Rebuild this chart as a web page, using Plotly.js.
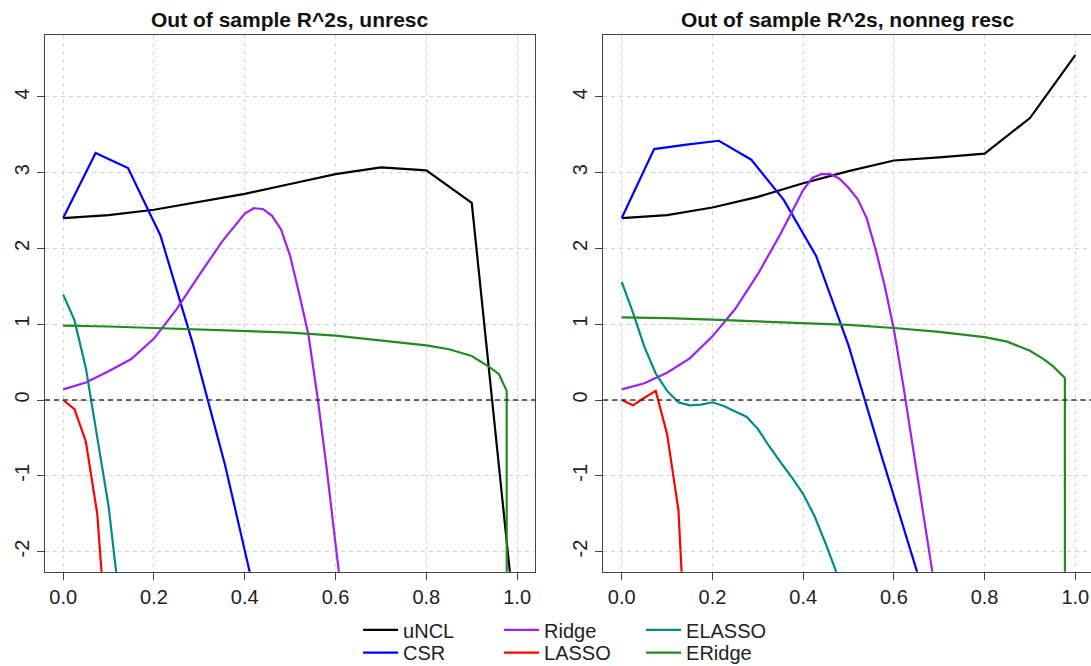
<!DOCTYPE html>
<html><head><meta charset="utf-8">
<script src="https://cdn.plot.ly/plotly-3.0.1.min.js"></script>
<style>html,body{margin:0;padding:0;background:#fff}</style>
</head><body><div id="chart" style="width:1091px;height:666px"></div>
<script>
// ---- series metadata ----
const seriesNames  = ['uNCL','CSR','Ridge','LASSO','ELASSO','ERidge'];
const seriesColors = ['#000000','#0000FF','#A020F0','#FF0000','#008B8B','#228B22'];
const legendOf     = ['legend','legend2','legend3','legend4','legend5','legend6'];
const panelTitles  = ['Out of sample R^2s, unresc','Out of sample R^2s, nonneg resc'];

// ---- axis ticks ----
const xTickVals = [0,0.2,0.4,0.6,0.8,1.0];
const xTickText = ['0.0','0.2','0.4','0.6','0.8','1.0'];
const yTickVals = [-2,-1,0,1,2,3,4];
const yTickText = ['-2','-1','0','1','2','3','4'];

// ---- shared x grids ----
const gridTenth = [0,0.1,0.2,0.3,0.4,0.5,0.6,0.7,0.8,0.9,1.0];
const gridCSR   = [0,1/14,2/14,3/14,4/14,5/14,6/14,7/14,8/14,9/14,10/14];
const gridFine  = [0,0.025,0.05,0.075,0.1,0.125,0.15];

// ---- left panel: unresc ----
const uNCL_L_x  = gridTenth;
const uNCL_L_y  = [2.40,2.44,2.51,2.61,2.72,2.85,2.98,3.07,3.03,2.60,-3.2];
const CSR_L_x   = gridCSR.slice(0,7);
const CSR_L_y   = [2.40,3.26,3.06,2.17,0.74,-0.87,-2.73];
const Ridge_L_x = [0,0.05,0.1,0.15,0.2,0.25,0.3,0.35,0.4,0.42,0.44,0.46,0.48,0.5,0.52,0.54,0.56,0.58,0.6,0.62];
const Ridge_L_y = [0.14,0.23,0.38,0.54,0.81,1.20,1.65,2.09,2.46,2.53,2.52,2.43,2.25,1.90,1.40,0.87,0.05,-0.88,-1.90,-2.9];
const LASSO_L_x = gridFine.slice(0,5);
const LASSO_L_y = [0,-0.12,-0.55,-1.5,-3.5];
const ELASSO_L_x = gridFine.slice(0,6);
const ELASSO_L_y = [1.39,1.05,0.42,-0.48,-1.4,-2.7];
const ERidge_L_x = [0,0.1,0.2,0.3,0.4,0.5,0.6,0.7,0.8,0.85,0.9,0.94,0.96,0.977,0.978];
const ERidge_L_y = [0.98,0.97,0.95,0.93,0.915,0.89,0.85,0.78,0.72,0.67,0.58,0.43,0.34,0.12,-30];

// ---- right panel: nonneg resc ----
const uNCL_R_x  = gridTenth;
const uNCL_R_y  = [2.40,2.44,2.54,2.68,2.86,3.02,3.16,3.20,3.25,3.72,4.55];
const CSR_R_x   = gridCSR;
const CSR_R_y   = [2.40,3.31,3.37,3.42,3.17,2.64,1.90,0.72,-0.71,-2.10,-3.5];
const Ridge_R_x = [0,0.05,0.1,0.15,0.2,0.25,0.3,0.35,0.4,0.42,0.44,0.46,0.48,0.5,0.52,0.54,0.56,0.58,0.6,0.62,0.64,0.66,0.68,0.7];
const Ridge_R_y = [0.14,0.22,0.36,0.55,0.84,1.20,1.66,2.19,2.77,2.93,2.98,2.98,2.92,2.80,2.65,2.40,1.98,1.50,0.93,0.22,-0.55,-1.3,-2.07,-2.85];
const LASSO_R_x = [0,0.025,0.05,0.075,0.1,0.125,0.15];
const LASSO_R_y = [0,-0.07,0.03,0.12,-0.45,-1.45,-4.4];
const ELASSO_R_x = [0,0.025,0.05,0.075,0.1,0.125,0.15,0.175,0.2,0.225,0.25,0.275,0.3,0.325,0.35,0.375,0.4,0.425,0.45,0.475,0.5];
const ELASSO_R_y = [1.56,1.15,0.70,0.35,0.12,-0.03,-0.07,-0.06,-0.03,-0.08,-0.15,-0.22,-0.38,-0.61,-0.82,-1.02,-1.24,-1.53,-1.90,-2.30,-2.8];
const ERidge_R_x = [0,0.1,0.2,0.3,0.4,0.5,0.6,0.7,0.8,0.85,0.9,0.93,0.95,0.977,0.978];
const ERidge_R_y = [1.09,1.08,1.06,1.035,1.01,0.99,0.95,0.90,0.83,0.77,0.65,0.54,0.45,0.29,-30];

const leftData  = [[uNCL_L_x,uNCL_L_y],[CSR_L_x,CSR_L_y],[Ridge_L_x,Ridge_L_y],[LASSO_L_x,LASSO_L_y],[ELASSO_L_x,ELASSO_L_y],[ERidge_L_x,ERidge_L_y]];
const rightData = [[uNCL_R_x,uNCL_R_y],[CSR_R_x,CSR_R_y],[Ridge_R_x,Ridge_R_y],[LASSO_R_x,LASSO_R_y],[ELASSO_R_x,ELASSO_R_y],[ERidge_R_x,ERidge_R_y]];

const FONT = 'Liberation Sans, Arial, sans-serif';
const traces = [];
leftData.forEach((d,i)=>traces.push({
  x:d[0], y:d[1], xaxis:'x', yaxis:'y', type:'scatter', mode:'lines',
  name:seriesNames[i], legend:legendOf[i], showlegend:true,
  line:{color:seriesColors[i], width:2.2}
}));
rightData.forEach((d,i)=>traces.push({
  x:d[0], y:d[1], xaxis:'x2', yaxis:'y2', type:'scatter', mode:'lines',
  name:seriesNames[i], showlegend:false,
  line:{color:seriesColors[i], width:2.2}
}));

const tickFont = {family:FONT, size:20, color:'#222'};
const common = {
  ticks:'outside', ticklen:7, tickwidth:1, tickcolor:'#444',
  showline:true, linecolor:'#444', linewidth:1,
  showgrid:true, gridcolor:'#d3d3d3', griddash:'4px,4px', gridwidth:1,
  zeroline:false, tickfont:tickFont, fixedrange:true
};
const yDomain = [0.1416, 0.9474];
const yRange = [-2.265, 4.815];

// legend grid: 3 columns x 2 rows (column-major, like the R legend)
const legendColX = [0.3282, 0.4574, 0.5876];
const legendRowY = [0.0541, 0.0200];
const legendBase = {orientation:'v', yanchor:'middle', xanchor:'left', bgcolor:'rgba(0,0,0,0)',
  font:{family:FONT, size:20, color:'#222'}, itemwidth:35, borderwidth:0};

const layout = {
  width:1091, height:666, margin:{l:0,r:0,t:0,b:0,autoexpand:false},
  paper_bgcolor:'#fff', plot_bgcolor:'#fff', showlegend:true,
  xaxis:Object.assign({}, common, {domain:[0.04125,0.49065], range:[-0.04,1.04], anchor:'y',
    tickvals:xTickVals, ticktext:xTickText, mirror:true}),
  yaxis:Object.assign({}, common, {domain:yDomain, range:yRange, anchor:'x',
    tickvals:yTickVals, ticktext:yTickText, tickangle:-90, mirror:true}),
  xaxis2:Object.assign({}, common, {domain:[0.553,1], range:[-0.0406,1.0346], anchor:'y2',
    tickvals:xTickVals, ticktext:xTickText, mirror:true}),
  yaxis2:Object.assign({}, common, {domain:yDomain, range:yRange, anchor:'x2',
    tickvals:yTickVals, ticktext:yTickText, tickangle:-90, mirror:false}),
  shapes:[
    {type:'line', xref:'x domain', x0:0, x1:1, yref:'y', y0:0, y1:0, layer:'above',
     line:{color:'#333', width:1.5, dash:'5px,4px'}},
    {type:'line', xref:'x2 domain', x0:0, x1:1, yref:'y2', y0:0, y1:0, layer:'above',
     line:{color:'#333', width:1.5, dash:'5px,4px'}}
  ],
  annotations:[
    {text:'<b>'+panelTitles[0]+'</b>', xref:'paper', yref:'paper', x:0.2658, y:0.97,
     xanchor:'center', yanchor:'middle', showarrow:false, font:{family:FONT, size:21, color:'#111'}},
    {text:'<b>'+panelTitles[1]+'</b>', xref:'paper', yref:'paper', x:0.7765, y:0.97,
     xanchor:'center', yanchor:'middle', showarrow:false, font:{family:FONT, size:21, color:'#111'}}
  ]
};
legendOf.forEach((id,i)=>{
  layout[id] = Object.assign({}, legendBase, {x:legendColX[Math.floor(i/2)], y:legendRowY[i%2]});
});
Plotly.newPlot('chart', traces, layout, {displayModeBar:false});
</script>
</body></html>
